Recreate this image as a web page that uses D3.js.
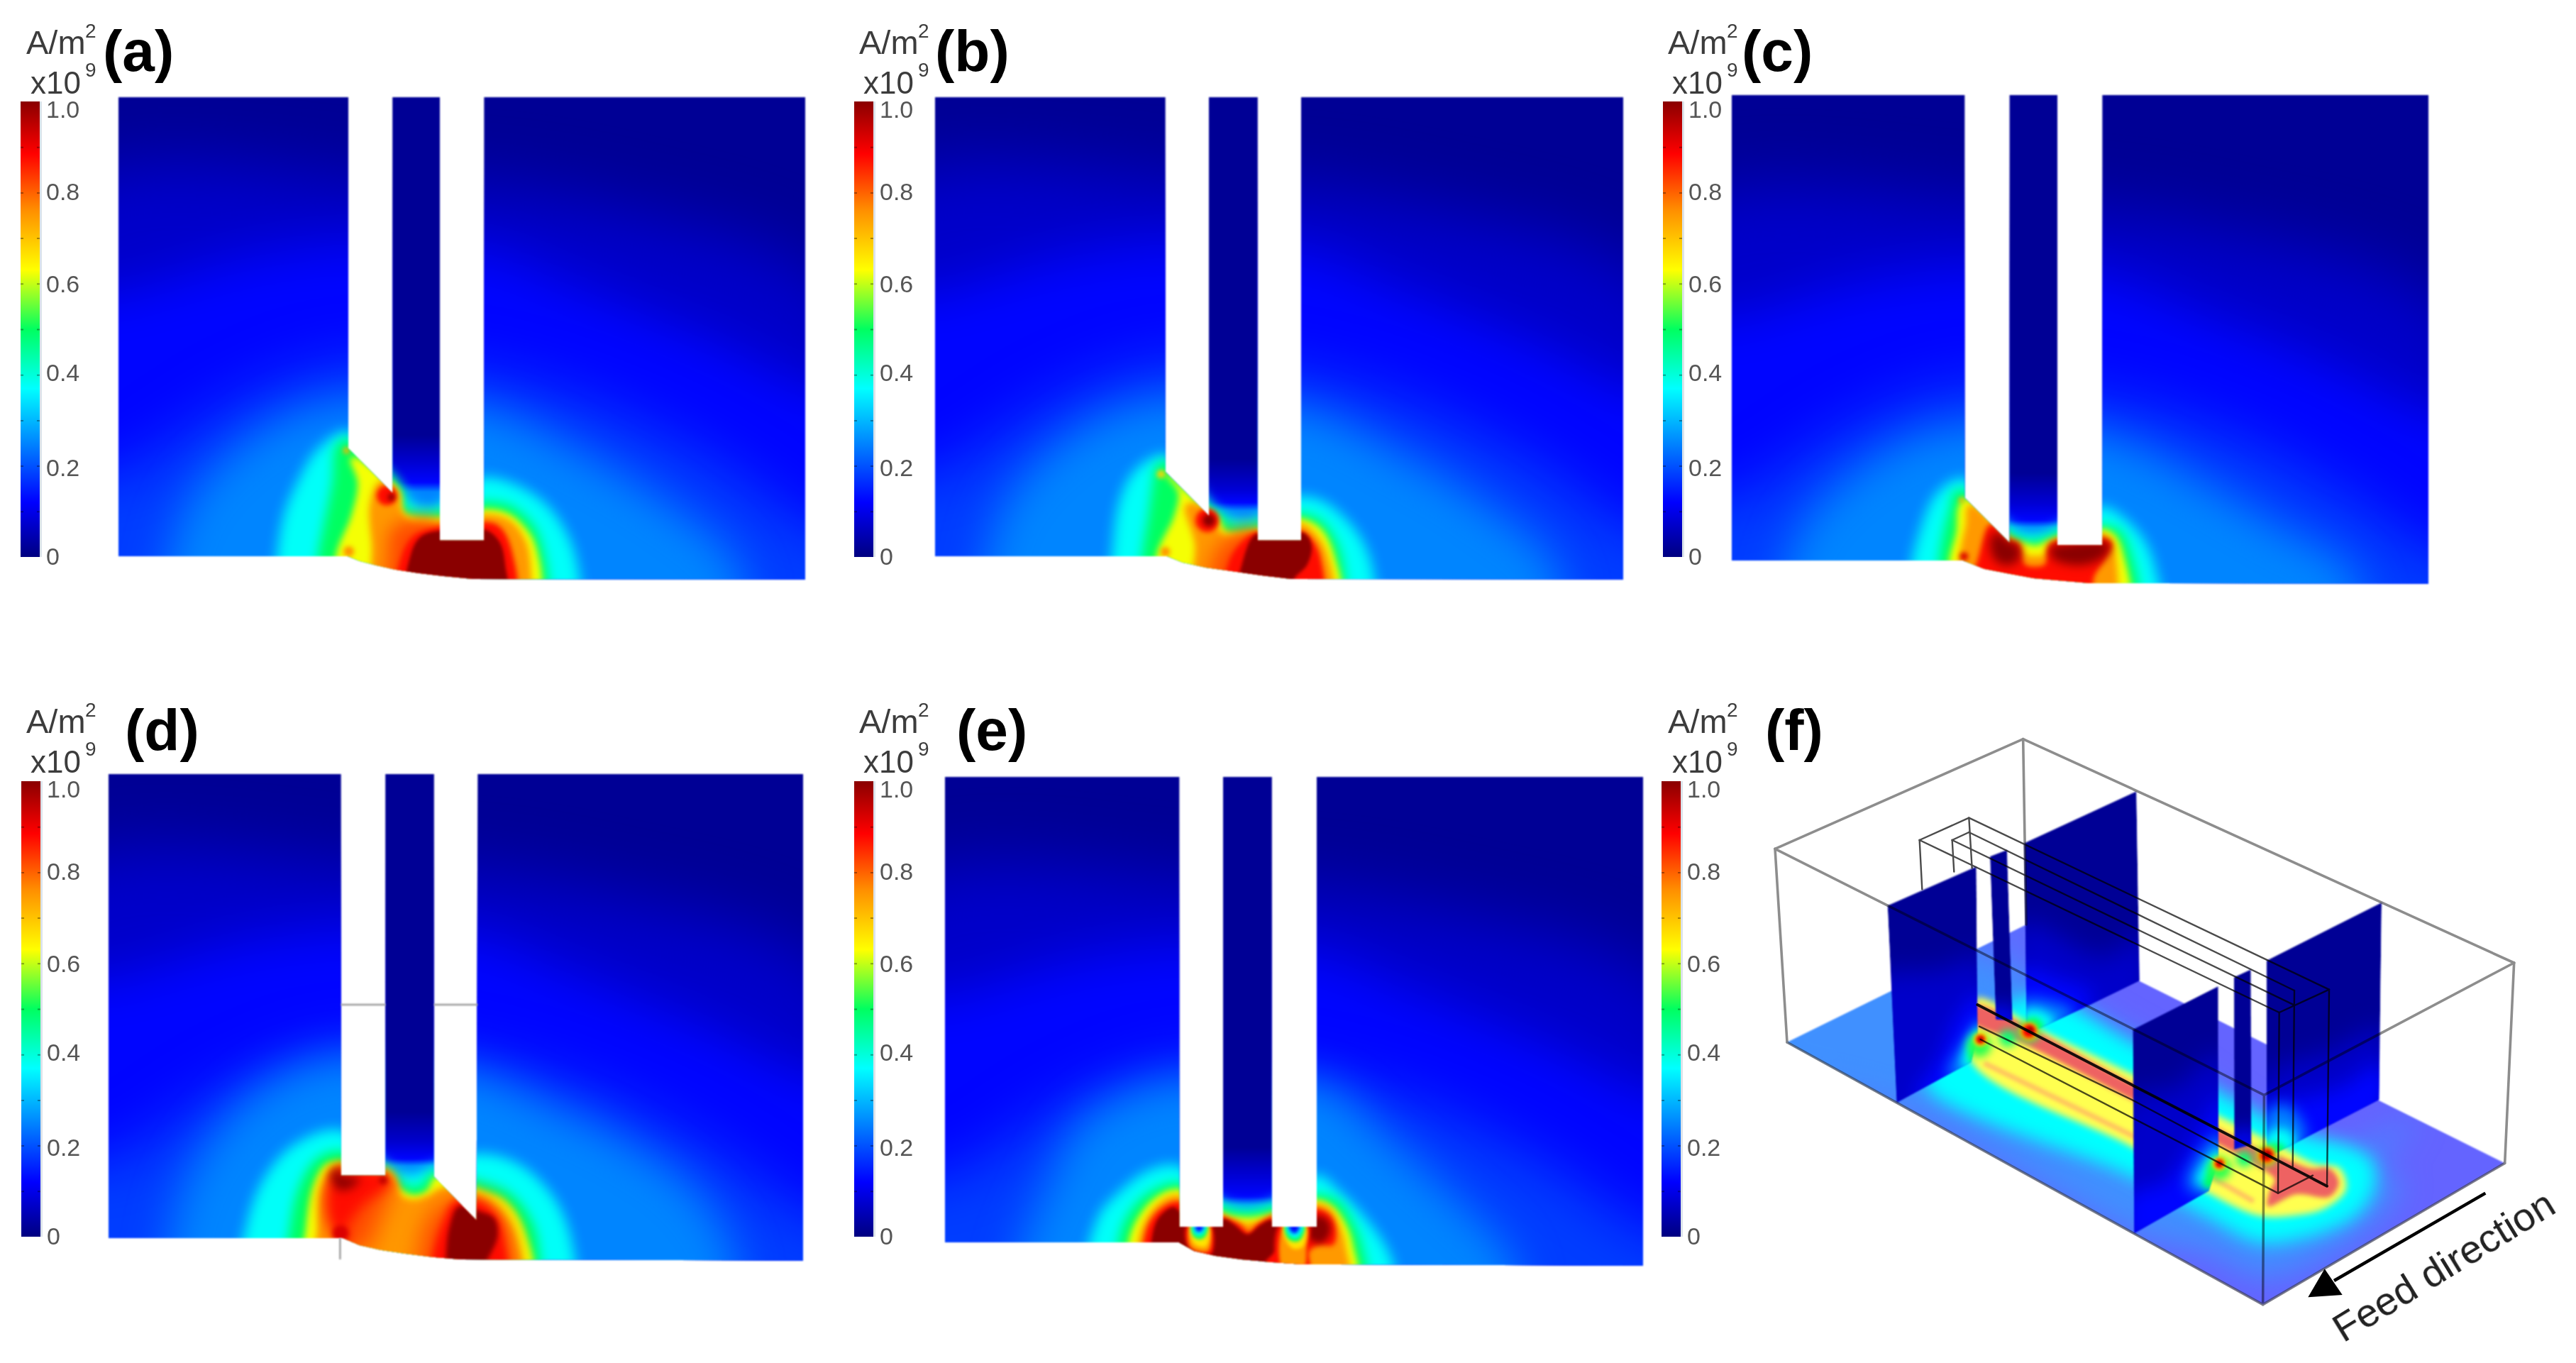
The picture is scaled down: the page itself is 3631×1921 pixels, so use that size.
<!DOCTYPE html>
<html><head><meta charset="utf-8">
<script src="https://cdn.jsdelivr.net/npm/d3@7"></script>
<style>html,body{margin:0;background:#fff}svg{display:block}text{font-family:"Liberation Sans",Arial,sans-serif}</style>
</head><body><svg id="c" width="3631" height="1921" viewBox="0 0 3631 1921"></svg>
<script>
// ---- colour scale and colour-bar values
const rainbowValues=[0,.12,.37,.5,.63,.76,.885,1];
const rainbowColours=['#000080','#0000ff','#00ffff','#00ff60','#ffff00','#ff9000','#ff0000','#8a0000'];
const tickValues=[0,.2,.4,.6,.8,1];
const tickLabels=['0','0.2','0.4','0.6','0.8','1.0'];
const minorTicks=[.1,.3,.5,.7,.9];
const tickReadOffsets=[0,125,259,384,514,630];
const panelNames=['(a)','(b)','(c)','(d)','(e)','(f)'];

// ---- panel a (units: third of a reference pixel)
const aOutline=[[-549,-1329],[423,-1329],[423,155],[610,345],[610,-1329],[810,-1329],[810,545],[997,545],[997,-1329],[2355,-1329],[2355,710],[950,708],[820,695],[720,683],[620,668],[540,650],[470,632],[420,612],[-549,612]];
const aSlot=[610,810],aSlotStops=[[-1329,.02],[100,.02],[200,.07],[300,.125],[340,.25],[545,.25]];
const aLevels=[
[.07,[[-800,-930],[600,-980],[1500,-880],[2500,-480],[2500,900],[-800,900]]],
[.125,[[-800,-400],[-549,-439],[0,-590],[423,-646],[997,-610],[1350,-472],[1950,-232],[2355,-40],[2600,50],[2600,900],[-800,900]]],
[.18,[[-800,350],[-549,330],[0,0],[423,-150],[997,-100],[1500,50],[2000,300],[2355,540],[2600,640],[2600,900],[-800,900]]],
[.25,[[-246,900],[-246,712],[-150,420],[150,150],[423,60],[997,105],[1350,270],[1710,480],[1980,711],[1980,900]]],
[.375,[[135,800],[135,600],[165,430],[220,300],[300,170],[420,95],[520,200],[620,320],[680,390],[740,420],[810,410],[900,320],[997,290],[1100,310],[1250,400],[1350,550],[1390,710],[1390,800]]],
[.5,[[310,800],[310,610],[330,500],[370,300],[385,150],[420,130],[500,200],[630,320],[650,410],[700,440],[810,435],[900,400],[1000,395],[1100,410],[1200,500],[1240,620],[1255,710],[1255,800]]],
[.625,[[370,800],[380,600],[440,450],[470,300],[440,200],[530,250],[630,340],[650,430],[700,450],[810,455],[900,440],[1000,420],[1100,440],[1190,530],[1225,640],[1235,720],[1235,800]]],
[.75,[[560,800],[530,560],[520,400],[560,300],[630,340],[640,420],[680,470],[810,475],[1000,440],[1100,465],[1170,560],[1190,710],[1190,800]]],
[.82,[[600,800],[590,600],[610,490],[800,470],[800,800]],12],
[.875,[[640,800],[650,620],[700,530],[810,490],[1000,470],[1060,490],[1110,590],[1115,800]]],
[1,[[680,800],[690,600],[730,530],[810,505],[1000,500],[1060,550],[1085,650],[1085,800]]]];
const aSpots=[[585,355,42,.875],[605,362,15,1],[425,592,22,.76],[415,165,14,.72]];

// ---- panel b
const bOutline=[[-636,-1329],[338,-1329],[338,255],[522,440],[522,-1329],[728,-1329],[728,545],[912,545],[912,-1329],[2274,-1329],[2274,710],[870,708],[740,692],[620,675],[510,660],[410,638],[345,612],[-636,612]];
const bSlot=[522,728],bSlotStops=[[-1329,.02],[200,.02],[330,.08],[385,.125],[420,.25],[545,.25]];
const bLevels=[
[.07,[[-900,-930],[500,-980],[1400,-880],[2450,-480],[2450,900],[-900,900]]],
[.125,[[-900,-400],[-636,-439],[-85,-590],[338,-646],[912,-610],[1265,-472],[1865,-232],[2270,-40],[2520,50],[2520,900],[-900,900]]],
[.18,[[-900,350],[-636,330],[-85,0],[338,-150],[912,-100],[1415,50],[1915,300],[2270,540],[2520,640],[2520,900],[-900,900]]],
[.25,[[-331,900],[-331,712],[-235,420],[65,150],[338,60],[912,105],[1265,270],[1625,480],[1895,711],[1895,900]]],
[.375,[[120,800],[125,600],[150,400],[200,280],[270,215],[338,195],[450,300],[528,410],[600,460],[720,465],[820,390],[912,370],[1000,390],[1100,470],[1170,570],[1210,710],[1210,800]]],
[.5,[[255,800],[255,610],[280,450],[300,300],[310,240],[340,225],[520,420],[560,445],[610,490],[725,485],[800,440],[912,445],[985,470],[1050,560],[1085,710],[1085,800]]],
[.625,[[300,800],[310,600],[380,450],[400,340],[350,270],[430,350],[520,430],[555,450],[590,510],[725,505],[800,470],[912,460],[990,500],[1045,610],[1060,800]]],
[.75,[[480,800],[470,560],[430,400],[480,400],[540,470],[580,530],[725,515],[800,500],[912,480],[975,530],[1020,620],[1030,800]]],
[.82,[[540,800],[540,620],[600,540],[720,500],[800,800]],14],
[.875,[[600,800],[610,640],[650,570],[720,515],[800,520],[912,510],[960,550],[990,620],[990,800]]],
[1,[[650,800],[665,640],[720,520],[800,530],[925,515],[955,570],[935,650],[880,710],[880,800]]]];
const bSpots=[[515,460,50,.875],[522,460,26,1],[338,593,20,.76],[320,265,18,.68]];

// ---- panel c
const cOutline=[[-627,-1398],[358,-1398],[358,305],[548,495],[548,-1398],[750,-1398],[750,505],[940,505],[940,-1398],[2319,-1398],[2319,668],[880,665],[760,655],[650,645],[540,625],[440,605],[350,570],[-627,570]];
const cSlot=[548,750],cSlotStops=[[-1398,.02],[200,.02],[330,.08],[400,.125],[430,.25],[505,.25]];
const cLevels=[
[.07,[[-900,-890],[500,-940],[1400,-840],[2450,-440],[2450,900],[-900,900]]],
[.125,[[-900,-360],[-614,-399],[-65,-550],[358,-606],[932,-570],[1285,-432],[1885,-192],[2290,0],[2540,90],[2540,900],[-900,900]]],
[.18,[[-900,390],[-614,370],[-65,40],[358,-110],[932,-60],[1435,90],[1935,340],[2290,580],[2540,680],[2540,900],[-900,900]]],
[.25,[[-311,900],[-311,680],[-215,450],[85,200],[358,110],[932,155],[1285,320],[1645,530],[1915,690],[1915,900]]],
[.375,[[140,800],[150,560],[170,480],[230,320],[300,250],[355,235],[460,340],[555,445],[650,470],[745,445],[850,370],[945,355],[1000,380],[1100,480],[1150,600],[1160,800]]],
[.5,[[265,800],[265,570],[285,450],[315,330],[320,295],[355,285],[545,470],[600,495],[660,500],[745,470],[850,420],[940,435],[1000,450],[1040,520],[1060,800]]],
[.625,[[300,800],[300,570],[330,450],[340,340],[370,315],[545,480],[600,500],[660,515],[720,490],[850,460],[945,445],[990,470],[1020,540],[1035,800]]],
[.75,[[345,800],[345,540],[370,420],[380,340],[540,480],[590,510],[610,550],[700,550],[725,495],[945,465],[975,495],[990,560],[1000,680],[1000,800]]],
[.875,[[365,800],[420,560],[470,420],[540,490],[580,500],[610,590],[700,590],[722,505],[945,480],[975,500],[950,560],[900,640],[880,800]]],
[1,[[470,470],[500,450],[545,490],[585,500],[585,570],[530,590],[480,560]],7],
[1,[[722,510],[750,505],[950,490],[975,510],[940,560],[840,590],[730,560]],7]];
const cSpots=[[355,553,18,.92],[345,315,12,.72]];

// ---- panel d
const dOutline=[[-591,-927],[392,-927],[392,770],[580,770],[580,-927],[785,-927],[785,775],[965,960],[970,-927],[2346,-927],[2346,1130],[900,1125],[780,1115],[660,1100],[560,1085],[470,1065],[400,1035],[-591,1035]];
const dSlot=[580,785],dSlotStops=[[-927,.02],[500,.02],[620,.07],[700,.125],[730,.25],[770,.25]];
const dLevels=[
[.07,[[-850,-490],[550,-540],[1450,-440],[2500,-40],[2500,1400],[-850,1400]]],
[.125,[[-850,40],[-580,1],[-31,-150],[392,-206],[966,-170],[1319,-32],[1919,208],[2324,400],[2569,490],[2569,1400],[-850,1400]]],
[.18,[[-850,790],[-580,770],[-31,440],[392,290],[966,340],[1469,490],[1969,740],[2324,980],[2569,1080],[2569,1400],[-850,1400]]],
[.25,[[-240,1300],[-240,1130],[-150,800],[100,500],[390,380],[970,460],[1200,560],[1500,700],[1800,900],[1950,1130],[1950,1300]]],
[.375,[[-20,1250],[0,1000],[70,800],[200,650],[390,590],[590,745],[650,770],[700,775],[780,745],[975,690],[1150,740],[1300,900],[1370,1130],[1370,1250]]],
[.5,[[185,1250],[190,1000],[230,820],[300,710],[390,680],[590,760],[625,800],[690,835],[750,815],[785,770],[975,810],[1100,860],[1190,980],[1220,1130],[1220,1250]]],
[.625,[[245,1250],[250,1000],[280,820],[330,730],[390,715],[600,760],[635,830],[700,860],[760,840],[800,780],[975,835],[1080,880],[1160,1000],[1180,1250]]],
[.75,[[290,1250],[300,1000],[320,820],[370,740],[610,790],[640,860],[700,880],[770,860],[820,830],[975,860],[1060,920],[1120,1020],[1130,1250]]],
[.82,[[340,820],[600,800],[600,850],[540,1000],[500,1090],[400,1060]],16],
[.82,[[720,1110],[760,950],[840,880],[1000,870],[1100,1000],[1100,1250],[720,1250]],16],
[.875,[[340,800],[380,735],[600,770],[600,810],[480,900],[420,1000],[440,1060],[400,1060],[340,950]],9],
[.875,[[780,1110],[830,950],[870,880],[975,880],[1050,940],[1085,1050],[1085,1250],[780,1250]],6],
[1,[[350,760],[385,735],[392,770],[470,780],[440,820],[380,830],[355,790]],7],
[1,[[835,1130],[850,990],[890,900],[975,920],[1040,950],[1055,1020],[1020,1110],[920,1250],[835,1250]],3]];
const dSpots=[[390,1015,34,.92],[570,790,18,.95]];
const dThinLines=[[[392,48],[580,48]],[[785,48],[970,48]],[[388,1035],[388,1125]]];

// ---- panel e
const eOutline=[[-654,-1365],[337,-1365],[337,537],[522,537],[522,-1365],[728,-1365],[728,537],[918,537],[918,-1365],[2298,-1365],[2298,702],[850,695],[720,686],[600,675],[490,660],[400,640],[335,603],[-654,603]];
const eSlot=[522,728],eSlotStops=[[-1365,.02],[200,.02],[300,.07],[410,.125],[445,.25],[537,.25]];
const eLevels=[
[.07,[[-900,-870],[500,-920],[1400,-820],[2450,-420],[2450,900],[-900,900]]],
[.125,[[-900,-340],[-635,-379],[-86,-530],[337,-586],[911,-550],[1264,-412],[1864,-172],[2269,20],[2514,110],[2514,900],[-900,900]]],
[.18,[[-900,410],[-635,390],[-86,60],[337,-90],[911,-40],[1414,110],[1914,360],[2269,600],[2514,700],[2514,900],[-900,900]]],
[.25,[[-250,900],[-250,720],[-120,400],[0,170],[200,60],[337,30],[918,50],[1100,200],[1300,380],[1500,560],[1650,720],[1650,900]]],
[.375,[[-20,800],[0,510],[100,390],[210,310],[330,290],[525,450],[620,470],[725,450],[918,330],[1000,390],[1100,490],[1190,610],[1230,700],[1230,800]]],
[.5,[[95,800],[95,600],[130,500],[210,410],[330,365],[525,470],[625,490],[725,470],[918,415],[1000,440],[1060,530],[1095,620],[1100,800]]],
[.625,[[130,800],[130,600],[170,500],[240,420],[330,385],[525,490],[625,505],[725,490],[918,430],[985,460],[1040,540],[1065,620],[1075,800]]],
[.75,[[165,800],[170,600],[200,510],[270,430],[330,410],[525,500],[570,515],[625,530],[690,515],[725,495],[918,445],[975,470],[1015,550],[1035,630],[1040,800]]],
[.875,[[185,800],[190,600],[220,510],[280,450],[330,435],[525,500],[590,530],[630,565],[670,530],[725,500],[918,465],[970,490],[995,550],[985,610],[930,610],[880,640],[880,800]]],
[1,[[215,800],[220,600],[250,500],[310,455],[335,470],[380,540],[380,610],[470,650],[470,540],[525,505],[570,530],[625,570],[680,530],[725,510],[780,540],[760,620],[690,700],[690,800]]],
[1,[[880,540],[918,490],[965,510],[975,560],[940,605],[890,590]],5]];
const ePits=[
[.875,[[370,530],[470,530],[470,650],[375,620]]],
[.75,[[385,530],[460,530],[460,640],[385,625]]],
[.66,[[385,530],[460,530],[450,620],[400,610]]],
[.5,[[390,530],[455,530],[445,580],[420,590],[395,575]]],
[.375,[[395,530],[450,530],[440,565],[420,575],[400,565]]],
[.125,[[405,530],[440,530],[430,555],[420,558],[410,555]]],
[.875,[[760,530],[885,530],[875,640],[880,720],[760,720]]],
[.75,[[780,530],[870,530],[875,620],[860,720],[775,720]]],
[.66,[[780,530],[870,530],[860,620],[820,630],[790,600]]],
[.5,[[785,530],[865,530],[850,590],[825,600],[795,585]]],
[.375,[[790,530],[860,530],[845,575],[825,585],[800,570]]],
[.125,[[800,530],[845,530],[835,560],[822,565],[808,555]]]];

// ---- panel f, 3-D view
const fFloor=[[657,1557],[2669,2666],[3692,2068],[1668,1059]];
const fFloorLayers=[
[.25,[[500,1500],[1300,1150],[2115,1530],[2950,2020],[3320,1890],[3130,2090],[3250,2150],[3150,2300],[2950,2450],[2670,2550],[2450,2450],[2125,2365],[1200,1850],[400,1600]]],
[.375,[[1240,1730],[2115,2125],[2440,2297],[2650,2400],[2850,2380],[3060,2290],[3140,2170],[3130,2060],[3040,2000],[2790,1930],[2115,1560],[1760,1370],[1600,1390],[1380,1570]]],
[.625,[[1440,1645],[2115,2000],[2440,2195],[2650,2290],[2800,2290],[2930,2260],[3020,2180],[2995,2090],[2890,2070],[2730,1990],[2115,1690],[1720,1500],[1460,1370],[1440,1450]]],
[.875,[[1440,1400],[2115,1730],[2700,2030],[2740,2040],[2870,2090],[2950,2090],[2990,2150],[2950,2210],[2810,2200],[2690,2250],[2700,2180],[2720,2140],[2670,2095],[2115,1800],[1640,1555],[1440,1470]]]];
const fOrangeStripe=[[1490,1645],[2115,1950],[2440,2120],[2630,2230]];
const fPlanes=[
{outline:[[1660,715],[2134,496],[2147,1297],[1925,1405],[1720,1500],[1670,1510]],levels:[
[.07,[[1650,1050],[2000,1200],[2160,1100],[2160,1400],[1650,1600]]],
[.125,[[1650,1250],[1800,1290],[1950,1360],[1850,1500],[1650,1550]]],
[.25,[[1650,1380],[1740,1380],[1870,1430],[1750,1520],[1650,1530]]],
[.375,[[1650,1430],[1720,1420],[1790,1470],[1700,1530]]],
[.5,[[1670,1470],[1710,1455],[1740,1490],[1700,1530]]]]},
{outline:[[1082,979],[1457,814],[1462,1530],[1435,1640],[1121,1812]],levels:[
[.07,[[1000,1300],[1300,1250],[1480,1200],[1480,1900],[1000,1900]]],
[.125,[[1200,1800],[1300,1620],[1380,1440],[1480,1350],[1500,1800]]],
[.25,[[1340,1700],[1410,1550],[1480,1460],[1500,1700]]],
[.375,[[1400,1660],[1430,1540],[1480,1490],[1500,1650]]],
[.5,[[1430,1640],[1445,1560],[1500,1500],[1520,1620]]]]},
{outline:[[1515,771],[1587,743],[1610,1465],[1540,1460]],levels:[
[.125,[[1500,1420],[1620,1420],[1620,1500],[1500,1500]]]]},
{outline:[[2685,1211],[3171,966],[3160,1800],[2685,2045]],levels:[
[.07,[[2685,1700],[2950,1600],[3170,1500],[3170,1850],[2685,2100]]],
[.125,[[2685,1800],[2800,1800],[3000,1750],[3170,1650],[3170,1850],[2685,2100]]],
[.25,[[2685,1860],[2760,1820],[2850,1950],[2685,2100]]],
[.375,[[2685,1950],[2760,1920],[2810,1990],[2685,2060]]],
[.5,[[2685,2000],[2740,1985],[2770,2020],[2685,2060]]]]},
{outline:[[2119,1503],[2480,1320],[2480,2060],[2440,2185],[2125,2365]],levels:[
[.07,[[2100,1800],[2300,1750],[2490,1600],[2490,2400],[2100,2400]]],
[.125,[[2110,2200],[2250,2150],[2390,1950],[2490,1780],[2490,2200],[2110,2400]]],
[.25,[[2350,2170],[2400,2030],[2490,1950],[2500,2200]]],
[.375,[[2390,2150],[2430,2060],[2490,2010],[2500,2150]]],
[.5,[[2420,2170],[2445,2090],[2500,2050],[2520,2150]]]]},
{outline:[[2547,1282],[2618,1249],[2620,1990],[2548,2010]],levels:[
[.125,[[2530,1950],[2640,1930],[2640,2020],[2530,2040]]]]}];
const fHalos=[[1470,1570,50,.52],[1590,1540,36,.48],[1680,1510,46,.52],[2485,2090,50,.52],[2590,2050,34,.48],[2685,2035,44,.55]];
const fSpots=[[1475,1545,30,.66],[1680,1510,38,.72],[1680,1510,27,.89],[1475,1545,19,.89],[1475,1545,9,1],[1685,1505,13,1],
[2485,2070,30,.66],[2685,2035,38,.74],[2685,2035,27,.89],[2485,2070,19,.89],[2485,2070,9,1],[2688,2032,14,1]];
const fOuterBox=[[[606,739],[1655,275]],[[1655,275],[3731,1221]],[[606,739],[2674,1780]],[[3731,1221],[2674,1780]],[[2674,1780],[2669,2666]],[[606,739],[657,1557]],[[3731,1221],[3692,2068]],[[1655,275],[1668,1059]],[[657,1557],[2669,2666]],[[2669,2666],[3692,2068]]];
const fToolLines=[[[1217,702],[1426,608]],[[1426,608],[2949,1334]],[[1217,702],[2738,1431]],[[2738,1431],[2949,1334]],[[1355,702],[1426,669]],[[1355,702],[2802,1400]],[[1426,669],[2802,1338]],[[1217,702],[1228,910]],[[1426,608],[1439,820]],[[1355,702],[1363,836]],[[2738,1431],[2733,2195]],[[2802,1338],[2795,2090]],[[2949,1334],[2940,2165]],[[1475,1545],[2733,2195]],[[1470,1490],[2115,1800],[2670,2095]],[[2733,2195],[2880,2120]]];
const fFeedLine=[[1462,1398],[2940,2165]];
const fArrowShaft=[[3610,2195],[2970,2565]];
const fArrowHead=[[2930,2515],[3005,2625],[2860,2635]];
const feedLabel='Feed direction',feedAnchor=[3009,2829];

// ---- page layout of every panel
const panelOrigins=[[350,580],[1530,580],[2650,600],[350,1400],[1550,1550],[2300,950]];
const barX=[29,1204,2344,30,1204,2342],barTop=[143,143,143,1101,1101,1101];
const unitX=[37,1211,2351,37,1211,2351],labelX=[145,1318,2455,176,1348,2488],rowShift=[0,0,0,957,957,957];
const barH=642,barW=27;

const svg=d3.select('#c'),defs=svg.append('defs');
const rainbow=d3.scaleLinear().domain(rainbowValues).range(rainbowColours).clamp(true);
const floorTint=d3.scaleOrdinal().domain([.25,.375,.625,.875]).range(['#4090ff','#00ffff','#ffff50','#ee6262']);
const blurIds={};
function blur(s){const k='b'+String(s).replace('.','_');if(!blurIds[k]){blurIds[k]=1;
 defs.append('filter').attr('id',k).attr('x','-80%').attr('y','-80%').attr('width','260%').attr('height','260%').attr('color-interpolation-filters','sRGB')
 .append('feGaussianBlur').attr('stdDeviation',s);}return `url(#${k})`;}
const levelBlur=d3.scaleThreshold().domain([.1,.15,.2,.3,.45,.56,.7,.8,.95]).range([45,35,40,30,9,8,5,5,3.5,2]);
const levelSpread=d3.scaleThreshold().domain([.1,.15,.2,.3,.45,.56,.7,.8,.95]).range([0,40,40,70,8,10,5,5,3,1]);

function makeScales(i){const [ox,oy]=panelOrigins[i];
 return {x:d3.scaleLinear().domain([0,1500]).range([ox,ox+500]),y:d3.scaleLinear().domain([0,1500]).range([oy,oy+500])};}
function pathGen(s,curve){const l=d3.line().x(d=>s.x(d[0])).y(d=>s.y(d[1]));if(curve)l.curve(d3.curveCatmullRomClosed.alpha(.5));return l;}

function drawField(i,outline,slot,stops,levels,spots,pits){
 const s=makeScales(i),id='clip'+i;
 const sharp=pathGen(s,false),smooth=pathGen(s,true);
 defs.append('clipPath').attr('id',id).append('path').attr('d',sharp(outline)+'Z');
 const g=svg.append('g').attr('filter',blur(1.1)).append('g').attr('clip-path',`url(#${id})`);
 const xs=outline.map(d=>d[0]),ys=outline.map(d=>d[1]);
 g.append('rect').attr('x',s.x(d3.min(xs))).attr('y',s.y(d3.min(ys))).attr('width',s.x(d3.max(xs))-s.x(d3.min(xs))).attr('height',s.y(d3.max(ys))-s.y(d3.min(ys))).attr('fill',rainbow(.02));
 const paint=(lv)=>{g.selectAll(null).data(lv).join('path').attr('d',d=>smooth(d[1])).attr('fill',d=>rainbow(d[0])).attr('stroke',d=>rainbow(d[0])).attr('stroke-width',d=>d[2]?0:levelSpread(d[0])).attr('stroke-linejoin','round').attr('filter',d=>blur(d[2]||levelBlur(d[0])));};
 paint(levels.filter(d=>d[0]<.3));
 const grad=defs.append('linearGradient').attr('id','slot'+i).attr('gradientUnits','userSpaceOnUse').attr('x1',0).attr('x2',0).attr('y1',s.y(stops[0][0])).attr('y2',s.y(stops[stops.length-1][0]));
 const t=d3.scaleLinear().domain([stops[0][0],stops[stops.length-1][0]]).range([0,1]);
 grad.selectAll('stop').data(stops).join('stop').attr('offset',d=>t(d[0])).attr('stop-color',d=>rainbow(d[1]));
 g.append('rect').attr('x',s.x(slot[0])).attr('width',s.x(slot[1])-s.x(slot[0])).attr('y',s.y(stops[0][0])).attr('height',s.y(stops[stops.length-1][0])-s.y(stops[0][0])).attr('fill',`url(#slot${i})`);
 paint(levels.filter(d=>d[0]>=.3));
 g.selectAll(null).data(spots).join('circle').attr('cx',d=>s.x(d[0])).attr('cy',d=>s.y(d[1])).attr('r',d=>s.x(d[2])-s.x(0)).attr('fill',d=>rainbow(d[3])).attr('filter',blur(3));
 if(pits)g.selectAll(null).data(pits).join('path').attr('d',d=>smooth(d[1])).attr('fill',d=>rainbow(d[0])).attr('filter',blur(2.5));
}
const fieldData=[[aOutline,aSlot,aSlotStops,aLevels,aSpots],[bOutline,bSlot,bSlotStops,bLevels,bSpots],[cOutline,cSlot,cSlotStops,cLevels,cSpots],[dOutline,dSlot,dSlotStops,dLevels,dSpots],[eOutline,eSlot,eSlotStops,eLevels,[],ePits]];
fieldData.forEach((d,i)=>drawField(i,...d));

// thin construction lines of panel d
{const s=makeScales(3),l=pathGen(s,false);
 svg.append('g').attr('filter',blur(1)).selectAll('path').data(dThinLines).join('path').attr('d',l).attr('fill','none').attr('stroke','#9b9b9b').attr('stroke-width',2.5);}

// panel f
{const s=makeScales(5),sharp=pathGen(s,false),smooth=pathGen(s,true);
 const open=d3.line().x(d=>s.x(d[0])).y(d=>s.y(d[1]));
 const root=svg.append('g').attr('filter',blur(1));
 defs.append('clipPath').attr('id','clipFloor').append('path').attr('d',sharp(fFloor)+'Z');
 const floor=root.append('g').attr('clip-path','url(#clipFloor)');
 const fg=defs.append('linearGradient').attr('id','floorBase').attr('gradientUnits','userSpaceOnUse').attr('x1',s.x(600)).attr('x2',s.x(3700)).attr('y1',0).attr('y2',0);
 fg.append('stop').attr('offset',0).attr('stop-color','#4a86ff');fg.append('stop').attr('offset',.45).attr('stop-color','#6464ff');fg.append('stop').attr('offset',1).attr('stop-color','#6464ff');
 floor.append('path').attr('d',sharp(fFloor)+'Z').attr('fill','url(#floorBase)');
 const fb=[22,12,5];
 floor.selectAll(null).data(fFloorLayers.slice(0,3)).join('path').attr('d',d=>smooth(d[1])).attr('fill',d=>floorTint(d[0])).attr('filter',(d,i)=>blur(fb[i]));
 floor.append('path').datum(fOrangeStripe).attr('d',open).attr('fill','none').attr('stroke','#ffc060').attr('stroke-width',7).attr('filter',blur(2.5));
 floor.append('path').datum(fFloorLayers[3][1]).attr('d',smooth).attr('fill',floorTint(fFloorLayers[3][0])).attr('filter',blur(3));
 fPlanes.forEach((p,i)=>{const id='clipPlane'+i;
  defs.append('clipPath').attr('id',id).append('path').attr('d',sharp(p.outline)+'Z');
  const g=root.append('g').attr('clip-path',`url(#${id})`);
  g.append('path').attr('d',sharp(p.outline)+'Z').attr('fill',rainbow(.02));
  const bl=d3.scaleThreshold().domain([.1,.2,.3,.45]).range([18,14,10,7,5]);
  g.selectAll(null).data(p.levels).join('path').attr('d',d=>smooth(d[1])).attr('fill',d=>rainbow(d[0])).attr('filter',d=>blur(bl(d[0])));
 });
 root.selectAll(null).data(fHalos).join('circle').attr('cx',d=>s.x(d[0])).attr('cy',d=>s.y(d[1])).attr('r',d=>s.x(d[2])-s.x(0)).attr('fill',d=>rainbow(d[3])).attr('filter',blur(6));
 root.selectAll(null).data(fSpots).join('circle').attr('cx',d=>s.x(d[0])).attr('cy',d=>s.y(d[1])).attr('r',d=>s.x(d[2])-s.x(0)).attr('fill',d=>rainbow(d[3])).attr('filter',blur(2.5));
 const wires=svg.append('g').attr('fill','none').style('mix-blend-mode','multiply').attr('stroke-linecap','round').attr('filter',blur(.7));
 wires.selectAll(null).data(fOuterBox).join('path').attr('d',open).attr('stroke','#8d8d8d').attr('stroke-width',3.6);
 wires.selectAll(null).data(fToolLines).join('path').attr('d',open).attr('stroke','#4a4a4a').attr('stroke-width',2.4);
 wires.append('path').datum(fFeedLine).attr('d',open).attr('stroke','#1a1a1a').attr('stroke-width',4);
 svg.append('path').datum(fArrowShaft).attr('d',open).attr('stroke','#000').attr('stroke-width',4.5);
 svg.append('path').datum(fArrowHead).attr('d',d=>sharp(d)+'Z').attr('fill','#000');
 svg.append('text').attr('transform',`translate(${s.x(feedAnchor[0])},${s.y(feedAnchor[1])}) rotate(-31.5)`).attr('font-size',56).attr('fill','#222').attr('filter',blur(.5)).text(feedLabel);
}

// colour bars, units and panel letters
panelNames.forEach((name,i)=>{
 const top=barTop[i],bottom=top+barH,x=barX[i];
 const g=svg.append('g');
 const id='bar'+i,gr=defs.append('linearGradient').attr('id',id).attr('x1',0).attr('x2',0).attr('y1',1).attr('y2',0);
 gr.selectAll('stop').data(rainbowValues).join('stop').attr('offset',d=>d).attr('stop-color',d=>rainbow(d));
 g.append('rect').attr('x',x+barW).attr('y',top).attr('width',3).attr('height',barH).attr('fill','#dbe3ea');
 g.append('rect').attr('x',x).attr('y',top).attr('width',barW).attr('height',barH).attr('fill',`url(#${id})`);
 const y=d3.scaleLinear().domain(tickValues).range(tickReadOffsets.map(o=>bottom-o));
 const axis=g.append('g').attr('transform',`translate(${x+barW+2},0)`).attr('class','axis').call(d3.axisRight(y).tickValues(tickValues).tickFormat((d,k)=>tickLabels[k]).tickSize(0).tickPadding(7));
 axis.select('.domain').remove();
 axis.selectAll('text').attr('font-size',34).attr('fill','#555').attr('font-family','"Liberation Sans",Arial,sans-serif').attr('filter',blur(.5));
 const notch=g.append('g').attr('transform',`translate(${x},0)`).call(d3.axisRight(d3.scaleLinear().domain([0,1]).range([bottom,top])).tickValues(minorTicks.concat(tickValues.slice(1,5))).tickSize(barW).tickFormat(''));
 notch.select('.domain').remove();
 notch.selectAll('line').attr('stroke','#000').attr('stroke-opacity',.35).attr('stroke-width',2).attr('stroke-dasharray',`4 ${barW-8} 4`);
 const ux=unitX[i],dy=rowShift[i];
 const tg=svg.append('g').attr('fill','#3c3c3c').attr('filter',blur(.5));
 tg.append('text').attr('x',ux).attr('y',76+dy).attr('font-size',47).text('A/m');
 tg.append('text').attr('x',ux+83).attr('y',53+dy).attr('font-size',28).text('2');
 tg.append('text').attr('x',ux+6).attr('y',132+dy).attr('font-size',44).text('x10');
 tg.append('text').attr('x',ux+83).attr('y',108+dy).attr('font-size',28).text('9');
 svg.append('text').attr('x',labelX[i]).attr('y',100+dy).attr('font-size',82).attr('font-weight','bold').attr('fill','#000').attr('filter',blur(.5)).text(name);
});
</script></body></html>
